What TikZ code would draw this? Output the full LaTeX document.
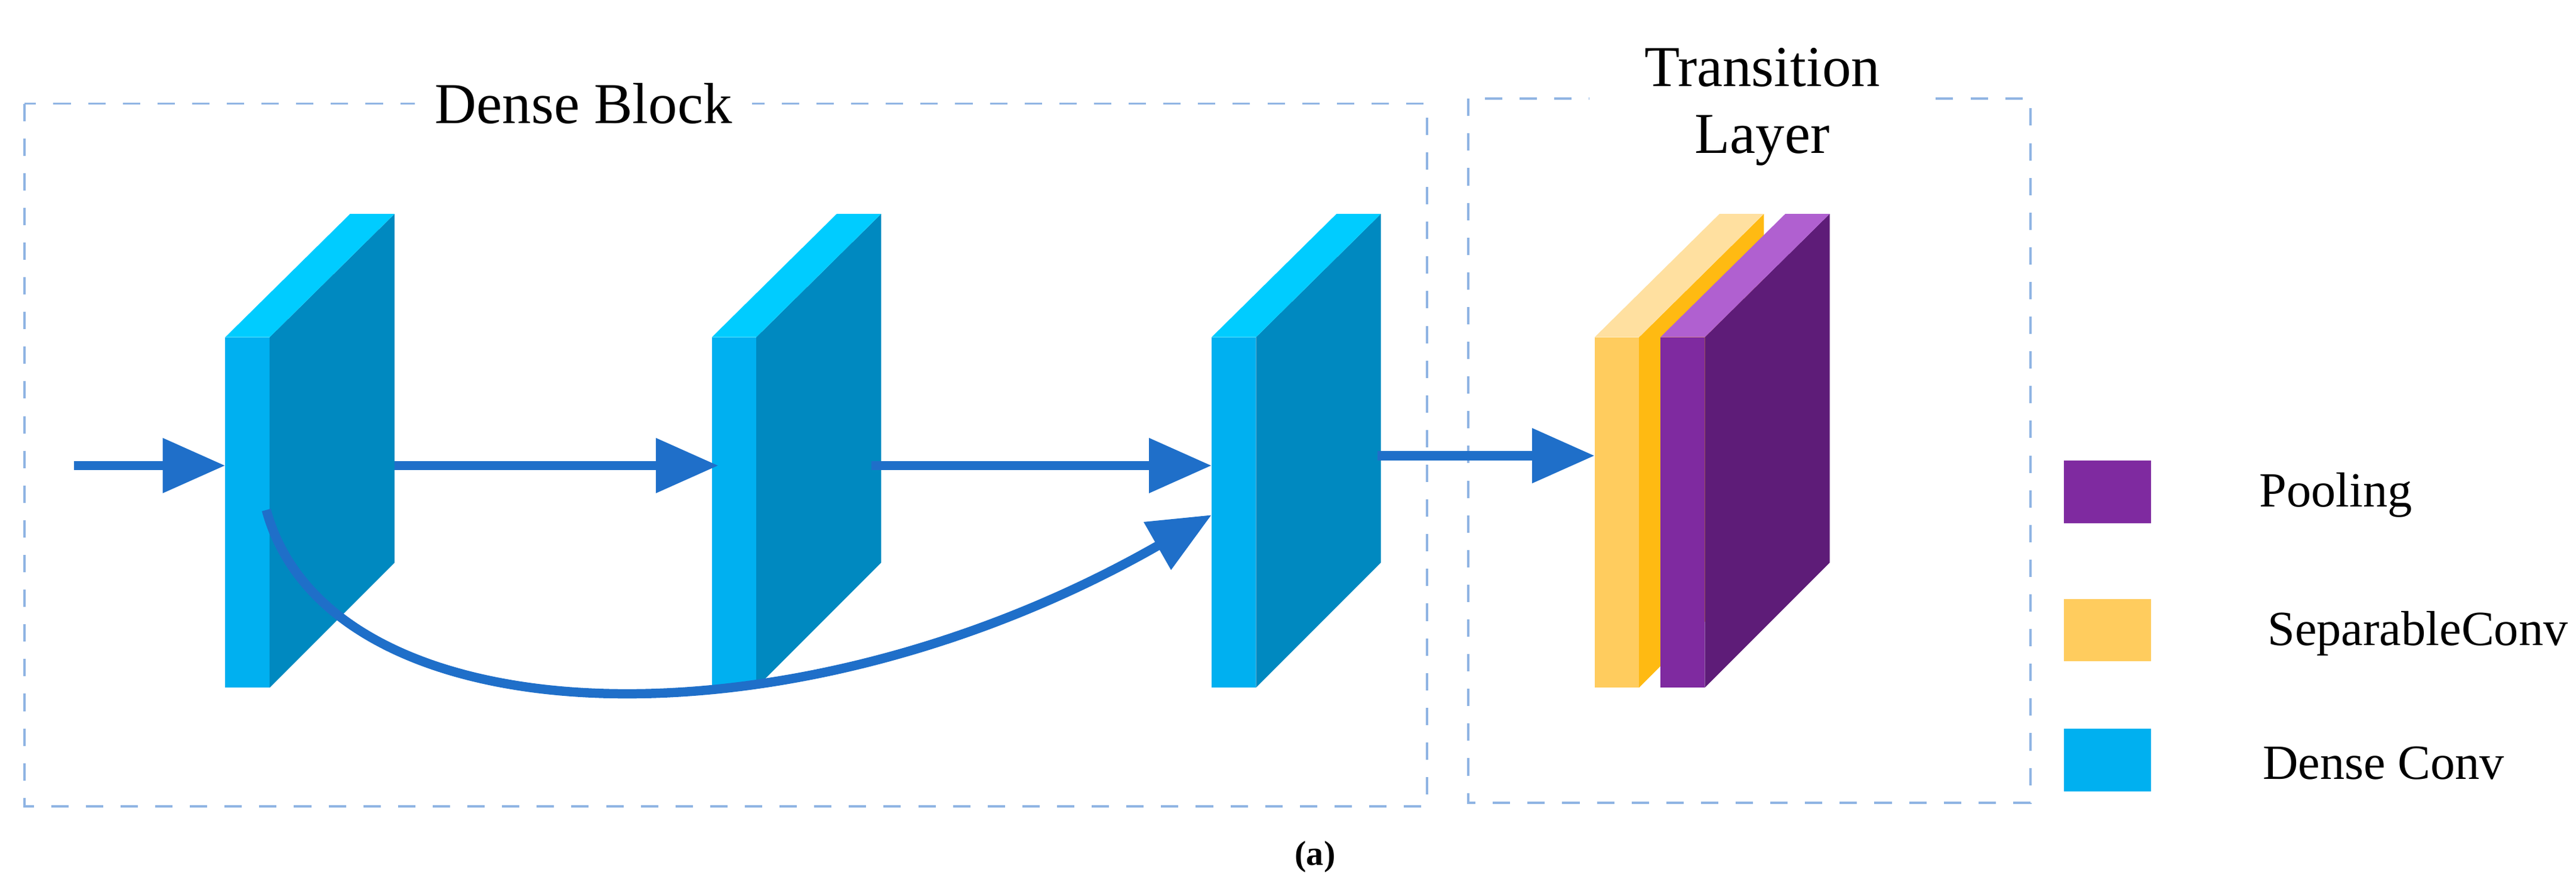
\documentclass[tikz,border=0pt]{standalone}
\usepackage{fontspec}
\setmainfont{Liberation Serif}
\usetikzlibrary{arrows.meta,positioning}
\definecolor{bfront}{HTML}{00B0F0}
\definecolor{bside}{HTML}{0089C0}
\definecolor{btop}{HTML}{00CCFF}
\definecolor{ofront}{HTML}{FFCC5E}
\definecolor{oside}{HTML}{FFBA12}
\definecolor{otop}{HTML}{FFE0A0}
\definecolor{pfront}{HTML}{7F2AA0}
\definecolor{pside}{HTML}{5E1C78}
\definecolor{ptop}{HTML}{B060D0}
\definecolor{flow}{HTML}{1F6FC9}
\definecolor{frame}{HTML}{8FB4E3}
\newcommand{\slab}[4]{% x of front face, front, side, top
  \fill[#2] (#1,205) rectangle ++(27,213);
  \fill[#3] (#1+27,205) -- ++(76,-75) -- ++(0,212) -- ++(-76,76) -- cycle;
  \fill[#4] (#1,205) -- ++(27,0) -- ++(76,-75) -- ++(-27,0) -- cycle;}
\tikzset{
  box/.style={draw=frame, dashed, line width=0.4pt},
  flowarrow/.style={draw=flow, line width=1.6pt, -{Triangle[length=0.38cm,width=0.32cm]}},
  key/.style={minimum width=0.53cm, minimum height=0.38cm, inner sep=0pt},
  keytext/.style={font=\fontsize{8.5}{10}\selectfont, anchor=west}
}
\begin{document}
\begin{tikzpicture}[x=0.01cm,y=-0.01cm]
\useasboundingbox (0,0) rectangle (1567,537);
% frames
\draw[box] (15,63) rectangle (868,490);
\draw[box] (893,60) rectangle (1235,488);
\node[fill=white, font=\fontsize{10}{11}\selectfont, minimum width=2.05cm, minimum height=0.75cm] (dbtitle) at (355,63) {Dense Block};
\node[fill=white, font=\fontsize{10}{11.5}\selectfont, align=center, minimum width=2.1cm] (tltitle) at (1072,65) {Transition\\Layer};
% dense conv slabs
\slab{137}{bfront}{bside}{btop}
\slab{433}{bfront}{bside}{btop}
\slab{737}{bfront}{bside}{btop}
% transition slabs
\slab{970}{ofront}{oside}{otop}
\slab{1010}{pfront}{pside}{ptop}
\coordinate (in) at (45,283);
\coordinate (d1) at (137,283);
\coordinate (d1out) at (240,283);
\coordinate (d2) at (437,283);
\coordinate (d2out) at (530,283);
\coordinate (d3) at (737,283);
\coordinate (d3out) at (838,277);
\coordinate (t1) at (970,277);
\coordinate (skip) at (162,310);
\coordinate (skipend) at (737,313);
\draw[flowarrow] (in) -- (d1);
\draw[flowarrow] (d1out) -- (d2);
\draw[flowarrow] (d2out) -- (d3);
\draw[flowarrow] (d3out) -- (t1);
\draw[flowarrow] (skip) .. controls (200,450) and (480,460) .. (skipend);
% legend
\node[key, fill=pfront] (kpool) at (1282,299) {};
\node[key, fill=ofront] (ksep) at (1282,383) {};
\node[key, fill=bfront] (kdense) at (1282,462) {};
\node[keytext] (lpool) at (1362,301) {Pooling};
\node[keytext] (lsep) at (1367,385) {SeparableConv};
\node[keytext] (ldense) at (1364,464) {Dense Conv};
\node[font=\fontsize{6}{7}\selectfont\bfseries] (cap) at (800,521) {(a)};
\end{tikzpicture}
\end{document}
